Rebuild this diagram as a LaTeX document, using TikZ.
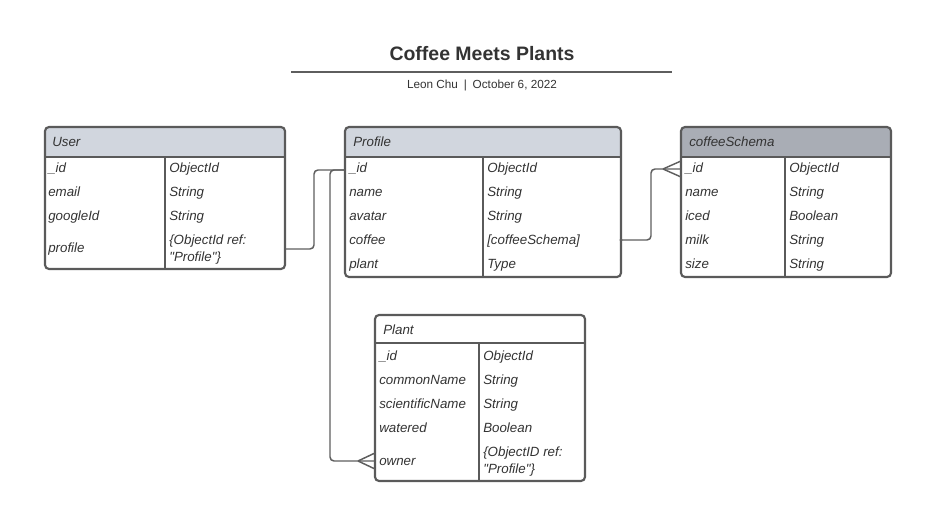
\documentclass[tikz,border=0pt]{standalone}
\usepackage{fontspec}
\setmainfont{Liberation Sans}[Ligatures=TeXOff]
\definecolor{bordc}{HTML}{5A5A5A}
\definecolor{hdrc}{HTML}{D1D6DE}
\definecolor{hdrd}{HTML}{A9ADB5}
\definecolor{txtc}{HTML}{333333}
\definecolor{linec}{HTML}{5E5E5E}
\begin{document}
\begin{tikzpicture}[x=0.75pt,y=-0.75pt,line join=round]
\useasboundingbox (0,0) rectangle (932,509);
\tikzset{
  tbl/.style={draw=bordc,line width=1.6pt,rounded corners=3pt},
  tline/.style={draw=bordc,line width=1.4pt},
  cell/.style={anchor=base west,font=\itshape\fontsize{10}{13}\selectfont,text=txtc,inner sep=0pt,align=left},
  conn/.style={draw=linec,line width=1.1pt,rounded corners=3pt},
  crow/.style={draw=linec,line width=1.1pt},
}
% title
\node[font=\bfseries\fontsize{14.6}{16}\selectfont,text=txtc] (title) at (482,53.5) {Coffee Meets Plants};
\coordinate (tl) at (291,72); \coordinate (tr) at (672,72);
\draw[draw=linec,line width=0.8pt] (tl) -- (tr);
\node[font=\fontsize{8.8}{10}\selectfont,text=txtc] (sub) at (482,85) {Leon Chu\enspace|\enspace October 6, 2022};

% ---- User
\fill[hdrc] (45,157) [rounded corners=3pt] -- (45,127) -- (285,127) [sharp corners] -- (285,157) -- cycle;
\draw[tbl] (45,127) rectangle (285,269);
\draw[tline] (45,157) -- (285,157);
\draw[tline] (165,157) -- (165,269);
\node[cell] (uh) at (52,146.5) {User};
\node[cell] (u1a) at (48,173) {\_id};      \node[cell] (u1b) at (169,173) {ObjectId};
\node[cell] (u2a) at (48,197) {email};     \node[cell] (u2b) at (169,197) {String};
\node[cell] (u3a) at (48,221) {googleId};  \node[cell] (u3b) at (169,221) {String};
\node[cell] (u4a) at (48,253) {profile};   \node[cell] (u4b) at (169,262) {\{ObjectId ref:\\"Profile"\}};
\coordinate (uout) at (285,249);

% ---- Profile
\fill[hdrc] (345,157) [rounded corners=3pt] -- (345,127) -- (621,127) [sharp corners] -- (621,157) -- cycle;
\draw[tbl] (345,127) rectangle (621,277);
\draw[tline] (345,157) -- (621,157);
\draw[tline] (483,157) -- (483,277);
\node[cell] (ph) at (353,146.5) {Profile};
\node[cell] (p1a) at (349,173) {\_id};     \node[cell] (p1b) at (487,173) {ObjectId};
\node[cell] (p2a) at (349,197) {name};     \node[cell] (p2b) at (487,197) {String};
\node[cell] (p3a) at (349,221) {avatar};   \node[cell] (p3b) at (487,221) {String};
\node[cell] (p4a) at (349,245) {coffee};   \node[cell] (p4b) at (487,245) {[coffeeSchema]};
\node[cell] (p5a) at (349,269) {plant};    \node[cell] (p5b) at (487,269) {Type};
\coordinate (pin) at (345,170);
\coordinate (pout) at (621,240);

% ---- coffeeSchema
\fill[hdrd] (681,157) [rounded corners=3pt] -- (681,127) -- (891,127) [sharp corners] -- (891,157) -- cycle;
\draw[tbl] (681,127) rectangle (891,277);
\draw[tline] (681,157) -- (891,157);
\draw[tline] (785,157) -- (785,277);
\node[cell] (ch) at (689,146.5) {coffeeSchema};
\node[cell] (c1a) at (685,173) {\_id};     \node[cell] (c1b) at (789,173) {ObjectId};
\node[cell] (c2a) at (685,197) {name};     \node[cell] (c2b) at (789,197) {String};
\node[cell] (c3a) at (685,221) {iced};     \node[cell] (c3b) at (789,221) {Boolean};
\node[cell] (c4a) at (685,245) {milk};     \node[cell] (c4b) at (789,245) {String};
\node[cell] (c5a) at (685,269) {size};     \node[cell] (c5b) at (789,269) {String};
\coordinate (cin) at (681,169);

% ---- Plant
\draw[tbl,fill=white] (375,315) rectangle (585,481);
\draw[tline] (375,343) -- (585,343);
\draw[tline] (479,343) -- (479,481);
\node[cell] (lh) at (383,334.5) {Plant};
\node[cell] (l1a) at (379,361) {\_id};            \node[cell] (l1b) at (483,361) {ObjectId};
\node[cell] (l2a) at (379,385) {commonName};      \node[cell] (l2b) at (483,385) {String};
\node[cell] (l3a) at (379,409) {scientificName};  \node[cell] (l3b) at (483,409) {String};
\node[cell] (l4a) at (379,433) {watered};         \node[cell] (l4b) at (483,433) {Boolean};
\node[cell] (l5a) at (379,465) {owner};           \node[cell] (l5b) at (483,474) {\{ObjectID ref:\\"Profile"\}};
\coordinate (lin) at (375,461);

% ---- connectors
\draw[conn] (uout) -- (314,249) -- (314,170) -- (pin);
\draw[conn] (pin) -- (330,170) -- (330,461) -- (lin);
\draw[crow] (358,461) -- (375,453);
\draw[crow] (358,461) -- (375,469);
\draw[conn] (pout) -- (651,240) -- (651,169) -- (cin);
\draw[crow] (663,169) -- (681,161);
\draw[crow] (663,169) -- (681,177);
\fill[linec] (pout) circle (1.6);
\end{tikzpicture}
\end{document}
